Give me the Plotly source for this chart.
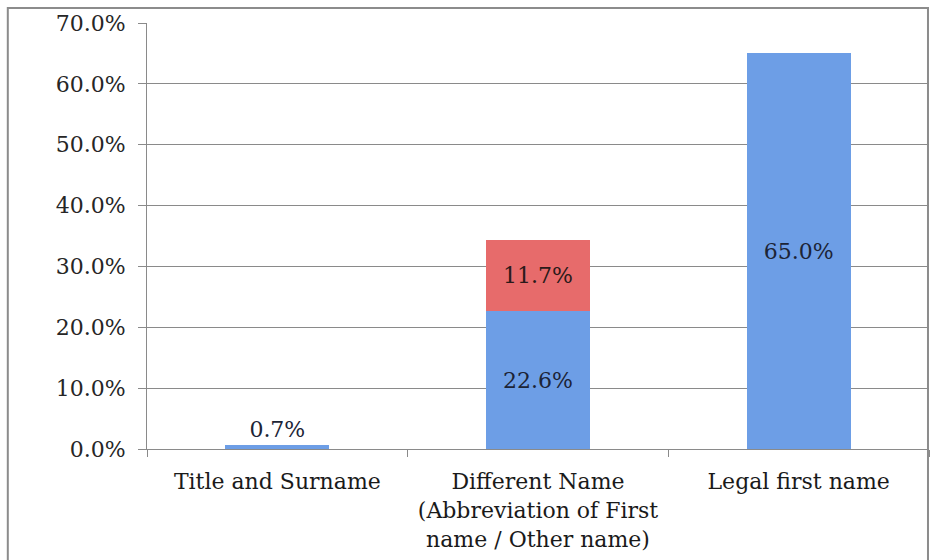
import plotly.graph_objects as go

categories = ["Title and Surname",
              "Different Name<br>(Abbreviation of First<br>name / Other name)",
              "Legal first name"]
blue_values = [0.007, 0.226, 0.650]
red_values = [None, 0.117, None]
y_ticks = [0.0, 0.1, 0.2, 0.3, 0.4, 0.5, 0.6, 0.7]

FONT = "DejaVu Serif"
GRID = "#8a8a8a"

fig = go.Figure()
fig.add_trace(go.Bar(
    x=categories, y=blue_values,
    marker=dict(color="#6d9ee6", line=dict(width=0)),
    text=[f"{v*100:.1f}%" for v in blue_values],
    textposition=["outside", "inside", "inside"],
    insidetextanchor="middle",
    textfont=dict(family=FONT, size=22, color="#1c2436"),
    cliponaxis=False,
    width=0.4,
))
fig.add_trace(go.Bar(
    x=categories, y=red_values,
    marker=dict(color="#e76b6b", line=dict(width=0)),
    text=[("" if v is None else f"{v*100:.1f}%") for v in red_values],
    textposition="inside",
    insidetextanchor="middle",
    textfont=dict(family=FONT, size=22, color="#2a1a1a"),
    width=0.4,
))

fig.update_layout(
    barmode="stack",
    width=931, height=560,
    margin=dict(l=147, r=2, t=23, b=111),
    paper_bgcolor="white", plot_bgcolor="white",
    showlegend=False,
    uniformtext=dict(minsize=8, mode="show"),
    font=dict(family=FONT, color="#222222"),
)
fig.update_yaxes(
    range=[0, 0.7], tickvals=y_ticks, tickformat=".1%",
    showgrid=True, gridcolor=GRID, gridwidth=1,
    showline=True, linecolor=GRID, linewidth=1,
    ticks="outside", ticklen=8, tickcolor=GRID,
    ticklabelstandoff=8,
    tickfont=dict(family=FONT, size=22, color="#262626"),
    zeroline=False,
)
fig.update_xaxes(
    showline=True, linecolor=GRID, linewidth=1,
    ticks="outside", ticklen=7, tickcolor=GRID, tickson="boundaries",
    ticklabelstandoff=13,
    tickfont=dict(family=FONT, size=22, color="#1a1a1a"),
    showgrid=False,
)
# outer chart frame
fig.add_shape(type="rect", xref="paper", yref="paper",
              x0=-0.178, x1=0.9987, y0=-0.3, y1=1.035,
              line=dict(color="#8c8c8c", width=2), layer="below")

fig.write_html("out.html")
